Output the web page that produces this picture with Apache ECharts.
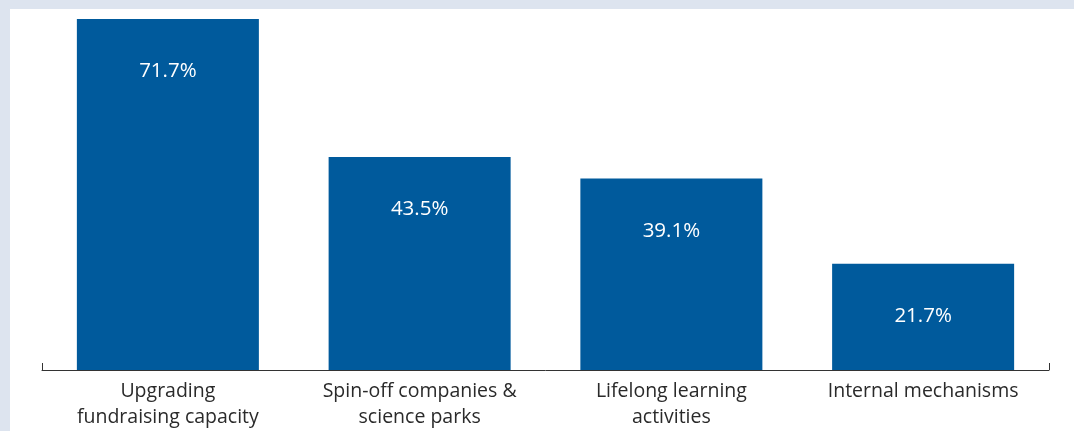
<!DOCTYPE html>
<html><head><meta charset="utf-8">
<script src="https://cdn.jsdelivr.net/npm/echarts@6/dist/echarts.min.js"></script>
<style>html,body{margin:0;padding:0;background:#dde4ef;}#c{width:1074px;height:431px;}</style>
</head><body><div id="c"></div>
<script>
const categories = ['Upgrading\nfundraising capacity', 'Spin-off companies &\nscience parks', 'Lifelong learning\nactivities', 'Internal mechanisms'];
const values = [71.7, 43.5, 39.1, 21.7];
const FONT = '"Open Sans", "Noto Sans", sans-serif';
const chart = echarts.init(document.getElementById('c'));
chart.setOption({
  backgroundColor: '#dde4ef',
  animation: false,
  graphic: [{type: 'rect', z: -100, shape: {x: 10, y: 9, width: 1064, height: 422}, style: {fill: '#ffffff'}}],
  grid: {left: 42, right: 25, top: 19, bottom: 61},
  xAxis: [{
    type: 'category', data: categories,
    axisLine: {show: false}, axisTick: {show: false},
    axisLabel: {interval: 0, hideOverlap: false, color: '#2a2a2a', fontSize: 19.5, fontFamily: FONT, lineHeight: 26, margin: 8}
  }, {
    type: 'value', position: 'bottom', min: 0, max: 1, interval: 1,
    axisLine: {show: true, lineStyle: {color: '#333', width: 1}},
    axisTick: {show: true, inside: true, length: 7, lineStyle: {color: '#333'}},
    axisLabel: {show: false}, splitLine: {show: false}
  }],
  yAxis: {type: 'value', min: 0, max: 71.7, show: false, splitLine: {show: false}},
  series: [{
    type: 'bar', data: values, xAxisIndex: 0, barCategoryGap: '27.7%',
    itemStyle: {color: '#005a9c'},
    label: {show: true, position: 'insideTop', distance: 42, color: '#ffffff', fontSize: 20.5, fontFamily: FONT,
      formatter: p => p.value.toFixed(1) + '%'}
  }]
});
</script></body></html>
